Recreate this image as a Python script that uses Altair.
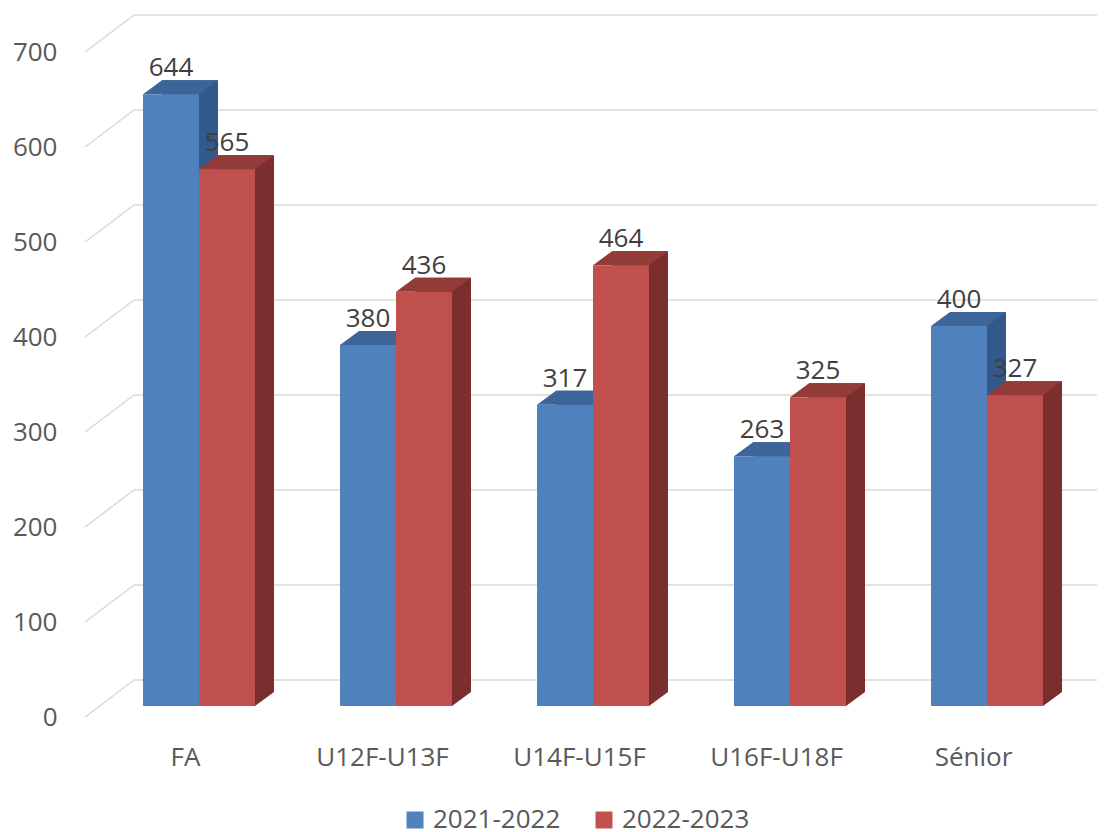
import altair as alt
import pandas as pd

categories = ["FA", "U12F-U13F", "U14F-U15F", "U16F-U18F", "Sénior"]
series = ["2021-2022", "2022-2023"]
values_2021_2022 = [644, 380, 317, 263, 400]
values_2022_2023 = [565, 436, 464, 325, 327]
y_ticks = [0, 100, 200, 300, 400, 500, 600, 700]

rows = []
for c, a, b in zip(categories, values_2021_2022, values_2022_2023):
    rows.append({"cat": c, "series": series[0], "value": a})
    rows.append({"cat": c, "series": series[1], "value": b})
df = pd.DataFrame(rows)
grid = pd.DataFrame({"tick": y_ticks})

BLUE, RED = "#4f81bd", "#c0504d"
BLUE_TOP, RED_TOP = "#3c6599", "#933b39"
BLUE_SIDE, RED_SIDE = "#33598a", "#7a2e2d"
GRID = "#d9d9d9"
FONT = "Open Sans"
FS = 26
W, H = 1012, 665
DX, DY = 19, 14          # depth of bars (px)
FLOOR_DX, FLOOR_DY = 49, 37
BASE_OFF = -11
HALF = 28                # half bar width in px
BAND = 4 * HALF
SIZE = (2 * HALF) ** 2
dxu, dyu = DX / HALF, DY / HALF
TOP_SHAPE = f"M -1 0 L 1 0 L {1+dxu:.4f} {-dyu:.4f} L {-1+dxu:.4f} {-dyu:.4f} Z"
TRI_SHAPE = f"M 1 0 L {1+dxu:.4f} {-dyu:.4f} L 1 {-dyu:.4f} Z"

y_scale = alt.Scale(domain=[0, 700], nice=False)
x_scale = alt.Scale(domain=categories, range=[0, 1016], paddingInner=0.4315, paddingOuter=0.2944)
xo_scale = alt.Scale(type="band", domain=series, range=[0, BAND], paddingInner=0, paddingOuter=0)
xo_side_scale = alt.Scale(type="band", domain=series, range=[DX, DX + BAND],
                          paddingInner=0, paddingOuter=0)

is_blue = alt.datum.series == series[0]

grid_diag = alt.Chart(grid).mark_rule(color=GRID, strokeWidth=1.5, y2Offset=-FLOOR_DY).encode(
    x=alt.value(0), x2=alt.value(FLOOR_DX),
    y=alt.Y("tick:Q", scale=y_scale,
            axis=alt.Axis(title=None, values=y_ticks, grid=False, domain=False, ticks=False,
                          tickSize=0, labelPadding=28, labelFontSize=FS, labelFont=FONT,
                          labelColor="#595959")),
    y2="tick:Q",
)
grid_h = alt.Chart(grid).mark_rule(color=GRID, strokeWidth=1.5, yOffset=-FLOOR_DY).encode(
    x=alt.value(FLOOR_DX), x2=alt.value(W + 10),
    y=alt.Y("tick:Q", scale=y_scale),
)

base = alt.Chart(df)
xenc = alt.X("cat:N", scale=x_scale, sort=categories,
             axis=alt.Axis(title=None, labelAngle=0, ticks=False, tickSize=0, domain=False,
                           grid=False, labelOffset=-13.5, labelPadding=27, labelFontSize=FS,
                           labelFont=FONT, labelColor="#595959"))
xoenc = alt.XOffset("series:N", scale=xo_scale, sort=series)

side = base.mark_bar(yOffset=BASE_OFF - DY, y2Offset=BASE_OFF - DY).encode(
    x=xenc, xOffset=alt.XOffset("series:N", scale=xo_side_scale, sort=series),
    y=alt.Y("value:Q", scale=y_scale),
    color=alt.condition(is_blue, alt.value(BLUE_SIDE), alt.value(RED_SIDE)),
)
tri = base.mark_point(shape=TRI_SHAPE, filled=True, opacity=1, strokeWidth=0, size=SIZE,
                      yOffset=BASE_OFF).encode(
    x=xenc, xOffset=xoenc, y=alt.datum(0, scale=y_scale),
    color=alt.condition(is_blue, alt.value(BLUE_SIDE), alt.value(RED_SIDE)),
)
top = base.mark_point(shape=TOP_SHAPE, filled=True, opacity=1, strokeWidth=0, size=SIZE,
                      yOffset=BASE_OFF).encode(
    x=xenc, xOffset=xoenc, y=alt.Y("value:Q", scale=y_scale),
    color=alt.condition(is_blue, alt.value(BLUE_TOP), alt.value(RED_TOP)),
)
front = base.mark_bar(yOffset=BASE_OFF, y2Offset=BASE_OFF).encode(
    x=xenc, xOffset=xoenc, y=alt.Y("value:Q", scale=y_scale),
    color=alt.Color("series:N", scale=alt.Scale(domain=series, range=[BLUE, RED]),
                    legend=alt.Legend(title=None, orient="none", direction="horizontal",
                                      legendX=317, legendY=755, symbolType="square",
                                      symbolSize=289, symbolStrokeWidth=0, labelFontSize=FS,
                                      labelFont=FONT, labelColor="#595959", labelOffset=5,
                                      columnPadding=30)),
)
labels = base.mark_text(dy=BASE_OFF - 18, baseline="alphabetic", align="center", fontSize=FS,
                        font=FONT, color="#404040").encode(
    x=xenc, xOffset=xoenc, y=alt.Y("value:Q", scale=y_scale), text="value:Q",
)

chart = alt.layer(grid_diag, grid_h, side, tri, top, front, labels).resolve_scale(
    xOffset="independent"
).properties(
    width=W, height=H,
    autosize=alt.AutoSizeParams(type="none"),
    padding={"left": 77, "top": 44, "right": 0, "bottom": 114},
).configure_view(stroke=None)

chart.save("out.html", embed_options={"renderer": "svg", "actions": False})
